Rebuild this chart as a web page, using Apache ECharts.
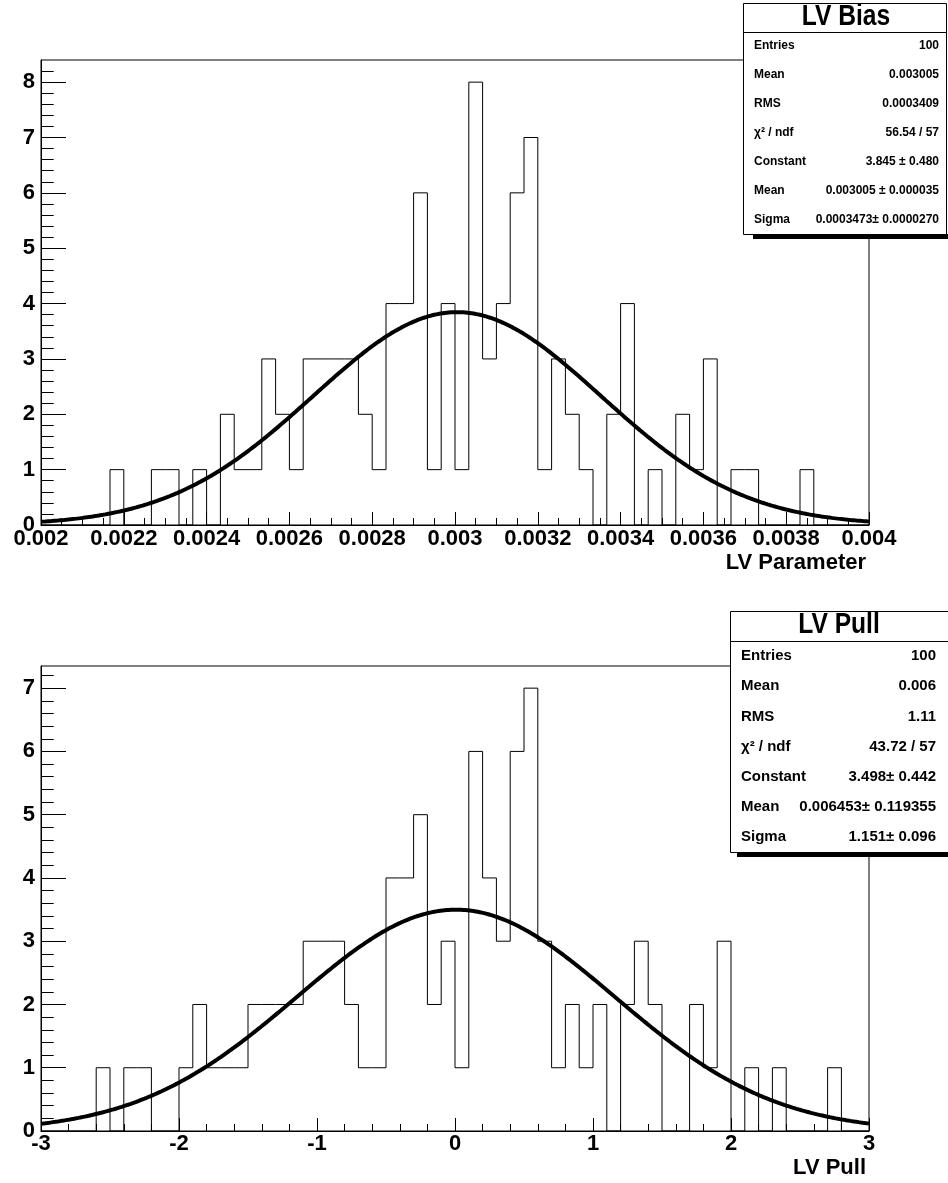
<!DOCTYPE html>
<html>
<head>
<meta charset="utf-8">
<script src="https://cdn.jsdelivr.net/npm/echarts@6/dist/echarts.min.js"></script>
<style>
html,body{margin:0;padding:0;background:#fff;}
#chart{width:948px;height:1183px;}
</style>
</head>
<body>
<div id="chart"></div>
<script>
// ---------------- DATA ----------------
// LV Bias histogram: 60 bins between 0.002 and 0.004
const biasRange = [0.002, 0.004];
const biasCounts = [
  0,0,0,0,0, 1,0,0,1,1, 0,1,0,2,1, 1,3,2,1,3,
  3,3,3,2,1, 4,4,6,1,4, 1,8,3,4,6, 7,1,3,2,1,
  0,2,4,0,1, 0,2,1,3,0, 1,1,0,0,0, 1,0,0,0,0
];
const biasFitParams = [3.845, 0.003005, 0.0003473]; // constant, mean, sigma
const biasXTicks = [0.002,0.0022,0.0024,0.0026,0.0028,0.003,0.0032,0.0034,0.0036,0.0038,0.004];
const biasYTicks = [0,1,2,3,4,5,6,7,8];
const biasYMax = 8.4;
const biasStatNames  = ['Entries','Mean','RMS','\u03c7\u00b2 / ndf','Constant','Mean','Sigma'];
const biasStatValues = ['100','0.003005','0.0003409','56.54 / 57','3.845 \u00b1 0.480','0.003005 \u00b1 0.000035','0.0003473\u00b1 0.0000270'];

// LV Pull histogram: 60 bins between -3 and 3
const pullRange = [-3, 3];
const pullCounts = [
  0,0,0,0,1, 0,1,1,0,0, 1,2,1,1,1, 2,2,2,2,3,
  3,3,2,1,1, 4,4,5,2,3, 1,6,4,3,6, 7,3,1,2,1,
  2,0,2,3,2, 0,0,2,1,3, 0,1,0,1,0, 0,0,1,0,0
];
const pullFitParams = [3.498, 0.006453, 1.151];
const pullXTicks = [-3,-2,-1,0,1,2,3];
const pullYTicks = [0,1,2,3,4,5,6,7];
const pullYMax = 7.35;
const pullStatNames  = ['Entries','Mean','RMS','\u03c7\u00b2 / ndf','Constant','Mean','Sigma'];
const pullStatValues = ['100','0.006','1.11','43.72 / 57','3.498\u00b1 0.442','0.006453\u00b1 0.119355','1.151\u00b1 0.096'];

// ---------------- HELPERS ----------------
const FONT = '"Liberation Sans", Arial, Helvetica, sans-serif';

function histPoints(counts, range) {
  const n = counts.length, w = (range[1] - range[0]) / n;
  const pts = counts.map((c, i) => [range[0] + i * w, c]);
  pts.push([range[1], counts[n - 1]]);
  return pts;
}
function fitCurve(params, range, steps) {
  const [c, m, s] = params, pts = [];
  for (let i = 0; i <= steps; i++) {
    const x = range[0] + (range[1] - range[0]) * i / steps;
    pts.push([x, c * Math.exp(-0.5 * Math.pow((x - m) / s, 2))]);
  }
  return pts;
}
function minorValues(majors, sub, max) {
  const out = [];
  const step = (majors[1] - majors[0]) / sub;
  const start = majors[0];
  for (let k = 1; start + k * step <= max + 1e-12; k++) {
    if (k % sub !== 0) out.push(+(start + k * step).toFixed(8));
  }
  return out;
}
const labelStyle = {color:'#000', fontSize:22, fontWeight:'bold', fontFamily:FONT};

function xMain(grid, range, ticks, fmt, margin) {
  return {type:'value', gridIndex:grid, position:'bottom', min:range[0], max:range[1],
    axisLine:{show:true, onZero:false, lineStyle:{color:'#000', width:1}},
    axisTick:{show:true, inside:true, length:13, customValues:ticks, lineStyle:{color:'#000', width:1}},
    axisLabel:Object.assign({show:true, customValues:ticks, formatter:fmt, margin:margin}, labelStyle),
    splitLine:{show:false}, minorTick:{show:false}};
}
function xMinor(grid, range, vals) {
  return {type:'value', gridIndex:grid, position:'bottom', min:range[0], max:range[1],
    axisLine:{show:false, onZero:false}, axisLabel:{show:false}, splitLine:{show:false},
    axisTick:{show:true, inside:true, length:7, customValues:vals, lineStyle:{color:'#000', width:1}}};
}
function yMain(grid, max, ticks) {
  return {type:'value', gridIndex:grid, position:'left', min:0, max:max,
    axisLine:{show:true, onZero:false, lineStyle:{color:'#000', width:1}},
    axisTick:{show:true, inside:true, length:25, customValues:ticks, lineStyle:{color:'#000', width:1}},
    axisLabel:Object.assign({show:true, customValues:ticks, margin:6, formatter:v => String(v)}, labelStyle),
    splitLine:{show:false}, minorTick:{show:false}};
}
function yMinor(grid, max, vals) {
  return {type:'value', gridIndex:grid, position:'left', min:0, max:max,
    axisLine:{show:false, onZero:false}, axisLabel:{show:false}, splitLine:{show:false},
    axisTick:{show:true, inside:true, length:12.7, customValues:vals, lineStyle:{color:'#000', width:1}}};
}

function statsBox(o) {
  const els = [];
  els.push({type:'rect', z:100, shape:{x:o.shadowX, y:o.y1, width:960 - o.shadowX, height:o.shadowH}, style:{fill:'#000'}});
  els.push({type:'rect', z:101, shape:{x:o.x0 + 0.5, y:o.y0 + 0.5, width:o.x1 - o.x0, height:o.y1 - o.y0}, style:{fill:'#fff', stroke:'#000', lineWidth:1}});
  els.push({type:'line', z:102, shape:{x1:o.x0, y1:o.sepY + 0.5, x2:o.x1, y2:o.sepY + 0.5}, style:{stroke:'#000', lineWidth:1}});
  // title: Helvetica-like bold, horizontally condensed as in the reference
  els.push({type:'text', z:103, x:o.titleX, y:o.titleY, scaleX:0.82, scaleY:1,
    style:{text:o.title, x:0, y:0, align:'center', verticalAlign:'middle',
    font:'bold ' + o.titleSize + 'px ' + FONT, fill:'#000'}});
  o.names.forEach((nm, i) => {
    const y = o.rowY0 + i * o.rowStep;
    els.push({type:'text', z:103, style:{text:nm, x:o.labelX, y:y, align:'left', verticalAlign:'middle',
      font:'bold ' + o.fontSize + 'px ' + FONT, fill:'#000'}});
    els.push({type:'text', z:103, style:{text:o.values[i], x:o.valueX, y:y, align:'right', verticalAlign:'middle',
      font:'bold ' + o.fontSize + 'px ' + FONT, fill:'#000'}});
  });
  return els;
}

// ---------------- CHART ----------------
const chart = echarts.init(document.getElementById('chart'), null, {renderer:'canvas'});
const fmtBias = v => String(parseFloat((+v).toFixed(6)));
const fmtPull = v => String(v);

const option = {
  animation:false,
  backgroundColor:'#fff',
  grid:[
    {left:41, top:60, width:828, height:465, show:true, borderColor:'#000', borderWidth:1, backgroundColor:'transparent', containLabel:false, outerBoundsMode:'none'},
    {left:41, top:666, width:828, height:465, show:true, borderColor:'#000', borderWidth:1, backgroundColor:'transparent', containLabel:false, outerBoundsMode:'none'}
  ],
  xAxis:[
    xMain(0, biasRange, biasXTicks, fmtBias, 3),
    xMinor(0, biasRange, minorValues(biasXTicks, 4, biasRange[1])),
    xMain(1, pullRange, pullXTicks, fmtPull, 2),
    xMinor(1, pullRange, minorValues(pullXTicks, 5, pullRange[1]))
  ],
  yAxis:[
    yMain(0, biasYMax, biasYTicks),
    yMinor(0, biasYMax, minorValues(biasYTicks, 5, biasYMax - 0.1)),
    yMain(1, pullYMax, pullYTicks),
    yMinor(1, pullYMax, minorValues(pullYTicks, 5, pullYMax))
  ],
  series:[
    {type:'line', name:'LV Bias', xAxisIndex:0, yAxisIndex:0, step:'end', data:histPoints(biasCounts, biasRange),
      symbol:'none', lineStyle:{color:'#000', width:1}, z:3},
    {type:'line', name:'LV Bias fit', xAxisIndex:0, yAxisIndex:0, data:fitCurve(biasFitParams, biasRange, 400),
      symbol:'none', smooth:false, lineStyle:{color:'#000', width:4}, z:4},
    {type:'line', name:'LV Pull', xAxisIndex:2, yAxisIndex:2, step:'end', data:histPoints(pullCounts, pullRange),
      symbol:'none', lineStyle:{color:'#000', width:1}, z:3},
    {type:'line', name:'LV Pull fit', xAxisIndex:2, yAxisIndex:2, data:fitCurve(pullFitParams, pullRange, 400),
      symbol:'none', smooth:false, lineStyle:{color:'#000', width:4}, z:4}
  ],
  graphic:[
    {type:'text', z:50, style:{text:'LV Parameter', x:866, y:563, align:'right', verticalAlign:'middle', font:'bold 22px ' + FONT, fill:'#000'}},
    {type:'text', z:50, style:{text:'LV Pull', x:866, y:1168, align:'right', verticalAlign:'middle', font:'bold 22px ' + FONT, fill:'#000'}}
  ].concat(
    statsBox({x0:743, x1:946, y0:3, y1:234, sepY:32, shadowX:753, shadowH:5, title:'LV Bias', titleX:846, titleY:17, titleSize:30,
      names:biasStatNames, values:biasStatValues, rowY0:46, rowStep:29, labelX:754, valueX:939, fontSize:12}),
    statsBox({x0:730, x1:950, y0:611, y1:852, sepY:641, shadowX:737, shadowH:5, title:'LV Pull', titleX:839, titleY:625, titleSize:30,
      names:pullStatNames, values:pullStatValues, rowY0:656, rowStep:30.2, labelX:741, valueX:936, fontSize:15})
  )
};
chart.setOption(option);
</script>
</body>
</html>
